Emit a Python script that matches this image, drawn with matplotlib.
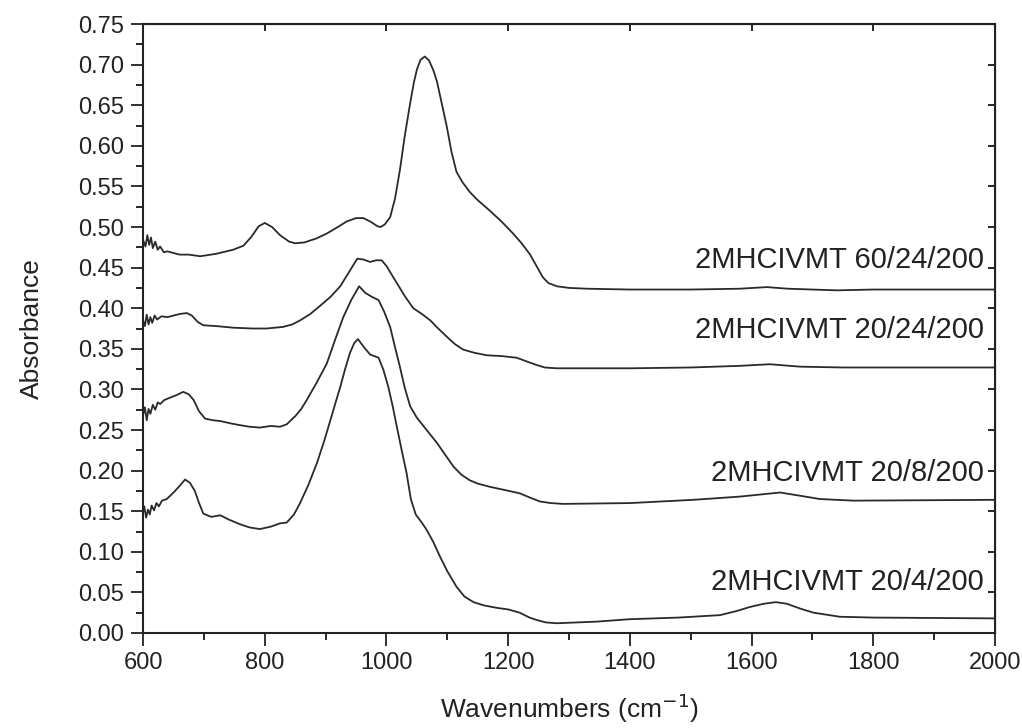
import matplotlib.pyplot as plt
from matplotlib.ticker import MultipleLocator

plt.rcParams["font.family"] = ["Liberation Sans", "DejaVu Sans"]

# 2MHCIVMT 60/24/200
wn_a = [600, 604, 607, 610, 613, 616, 620, 624, 628, 634, 640, 650, 660, 675, 694,
        720, 748, 765, 778, 790, 800, 812, 825, 840, 850, 865, 885, 902, 920, 935,
        950, 962, 975, 985, 990, 997, 1006, 1014, 1022, 1030, 1039, 1045, 1050, 1056,
        1063, 1070, 1077, 1083, 1090, 1099, 1107, 1115, 1125, 1137, 1150, 1170, 1190,
        1208, 1222, 1236, 1248, 1257, 1266, 1280, 1300, 1330, 1400, 1500, 1580, 1625,
        1660, 1740, 1800, 1900, 2000]
abs_a = [0.484, 0.476, 0.490, 0.478, 0.487, 0.474, 0.482, 0.472, 0.476, 0.469, 0.470,
         0.468, 0.466, 0.466, 0.464, 0.467, 0.472, 0.477, 0.488, 0.501, 0.505, 0.500,
         0.490, 0.482, 0.480, 0.481, 0.486, 0.492, 0.500, 0.507, 0.511, 0.511, 0.506,
         0.501, 0.500, 0.503, 0.512, 0.535, 0.570, 0.612, 0.653, 0.678, 0.694, 0.706,
         0.710, 0.705, 0.693, 0.679, 0.655, 0.624, 0.592, 0.568, 0.555, 0.543, 0.533,
         0.520, 0.506, 0.492, 0.480, 0.466, 0.450, 0.438, 0.431, 0.427, 0.425, 0.424,
         0.423, 0.423, 0.424, 0.426, 0.424, 0.422, 0.423, 0.423, 0.423]

# 2MHCIVMT 20/24/200
wn_b = [600, 603, 606, 609, 612, 615, 619, 623, 630, 640, 650, 661, 672, 680, 690,
        699, 720, 748, 780, 803, 830, 845, 858, 875, 891, 908, 924, 938, 952, 962,
        973, 983, 992, 1000, 1008, 1017, 1030, 1044, 1058, 1072, 1085, 1099, 1112,
        1126, 1145, 1165, 1190, 1214, 1232, 1247, 1260, 1280, 1400, 1500, 1580, 1630,
        1680, 1750, 2000]
abs_b = [0.385, 0.378, 0.392, 0.380, 0.389, 0.382, 0.391, 0.386, 0.390, 0.389, 0.391,
         0.393, 0.394, 0.391, 0.383, 0.379, 0.378, 0.376, 0.375, 0.375, 0.377, 0.380,
         0.385, 0.393, 0.403, 0.414, 0.427, 0.444, 0.461, 0.460, 0.457, 0.459, 0.459,
         0.452, 0.442, 0.431, 0.415, 0.400, 0.393, 0.385, 0.375, 0.365, 0.356, 0.349,
         0.345, 0.342, 0.341, 0.339, 0.334, 0.330, 0.327, 0.326, 0.326, 0.327, 0.329,
         0.331, 0.328, 0.327, 0.327]

# 2MHCIVMT 20/8/200
wn_c = [600, 603, 606, 609, 612, 616, 620, 624, 628, 635, 645, 655, 666, 675, 683,
        692, 702, 715, 727, 745, 759, 775, 792, 810, 825, 836, 850, 860, 869, 885,
        902, 915, 929, 942, 955, 965, 976, 987, 996, 1006, 1014, 1022, 1030, 1039,
        1050, 1066, 1083, 1096, 1110, 1123, 1137, 1150, 1170, 1195, 1219, 1235, 1252,
        1270, 1290, 1400, 1504, 1581, 1620, 1647, 1680, 1712, 1767, 2000]
abs_c = [0.268, 0.278, 0.262, 0.276, 0.270, 0.281, 0.275, 0.284, 0.282, 0.287, 0.290,
         0.293, 0.297, 0.294, 0.287, 0.273, 0.264, 0.262, 0.261, 0.258, 0.256, 0.254,
         0.253, 0.255, 0.254, 0.257, 0.267, 0.276, 0.287, 0.308, 0.332, 0.360, 0.389,
         0.410, 0.427, 0.419, 0.414, 0.410, 0.396, 0.377, 0.352, 0.328, 0.302, 0.279,
         0.265, 0.250, 0.234, 0.220, 0.205, 0.195, 0.188, 0.184, 0.180, 0.176, 0.172,
         0.167, 0.162, 0.160, 0.159, 0.160, 0.164, 0.168, 0.171, 0.173, 0.169, 0.165,
         0.163, 0.164]

# 2MHCIVMT 20/4/200
wn_d = [600, 602, 605, 608, 611, 614, 618, 622, 626, 631, 639, 650, 660, 669, 677,
        685, 692, 699, 712, 727, 740, 759, 775, 792, 810, 825, 836, 848, 858, 872,
        886, 897, 907, 916, 924, 932, 940, 947, 953, 963, 973, 987, 995, 1003, 1010,
        1017, 1025, 1033, 1040, 1048, 1058, 1066, 1077, 1088, 1100, 1115, 1128, 1143,
        1160, 1181, 1200, 1219, 1235, 1247, 1262, 1280, 1345, 1400, 1480, 1548, 1575,
        1597, 1620, 1640, 1658, 1680, 1702, 1745, 1800, 2000]
abs_d = [0.148, 0.156, 0.142, 0.152, 0.146, 0.157, 0.151, 0.160, 0.156, 0.163, 0.165,
         0.173, 0.181, 0.189, 0.185, 0.175, 0.160, 0.147, 0.143, 0.145, 0.140, 0.134,
         0.130, 0.128, 0.131, 0.135, 0.136, 0.146, 0.160, 0.183, 0.210, 0.235, 0.260,
         0.283, 0.303, 0.325, 0.345, 0.357, 0.362, 0.352, 0.343, 0.339, 0.324, 0.303,
         0.280, 0.254, 0.225, 0.197, 0.165, 0.146, 0.136, 0.127, 0.112, 0.094, 0.076,
         0.057, 0.045, 0.038, 0.034, 0.031, 0.029, 0.025, 0.019, 0.016, 0.013, 0.012,
         0.014, 0.017, 0.019, 0.022, 0.027, 0.032, 0.036, 0.038, 0.036, 0.030, 0.025,
         0.020, 0.019, 0.018]

labels = ["2MHCIVMT 60/24/200", "2MHCIVMT 20/24/200",
          "2MHCIVMT 20/8/200", "2MHCIVMT 20/4/200"]
label_y = [0.459, 0.373, 0.197, 0.063]

fig = plt.figure(figsize=(10.22, 7.28), dpi=100)
ax = fig.add_axes([0.140, 0.1305, 0.8336, 0.8365])

for wn, ab in [(wn_a, abs_a), (wn_b, abs_b), (wn_c, abs_c), (wn_d, abs_d)]:
    ax.plot(wn, ab, color="#2a2a2a", linewidth=1.3)

for text, y in zip(labels, label_y):
    ax.text(1982, y, text, ha="right", va="center", fontsize=21, color="#222222")

ax.set_xlim(600, 2000)
ax.set_ylim(0, 0.75)
ax.xaxis.set_major_locator(MultipleLocator(200))
ax.xaxis.set_minor_locator(MultipleLocator(100))
ax.yaxis.set_major_locator(MultipleLocator(0.05))
ax.yaxis.set_minor_locator(MultipleLocator(0.025))
ax.yaxis.set_major_formatter(plt.FormatStrFormatter("%.2f"))

ax.tick_params(which="major", direction="out", length=9, width=1.3,
               labelsize=17, colors="#222222", pad=5)
ax.tick_params(which="minor", direction="out", length=5, width=1.2)

# ticks on top and right point inward, without labels
top = ax.secondary_xaxis("top")
top.xaxis.set_major_locator(MultipleLocator(200))
top.tick_params(direction="in", length=5, width=1.2, labeltop=False)
right = ax.secondary_yaxis("right")
right.yaxis.set_major_locator(MultipleLocator(0.05))
right.tick_params(direction="in", length=5, width=1.2, labelright=False)

for spine in ax.spines.values():
    spine.set_linewidth(1.5)
    spine.set_color("#222222")

ax.set_xlabel("Wavenumbers (cm$^{-1}$)", fontsize=19, labelpad=12, color="#222222")
ax.set_ylabel("Absorbance", fontsize=19, labelpad=24, color="#222222")

fig.savefig("out.png", dpi=100)
